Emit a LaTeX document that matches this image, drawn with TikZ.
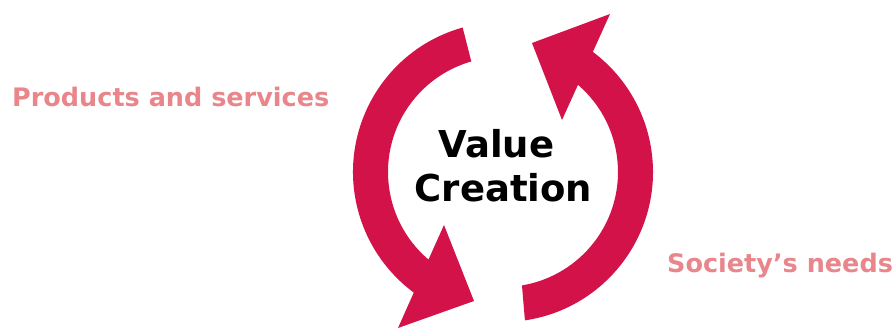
\documentclass[tikz,border=0pt]{standalone}
\usepackage{fontspec}
\setmainfont{DejaVu Sans}
\usetikzlibrary{calc}
\definecolor{ringred}{HTML}{D3124A}
\definecolor{labelpink}{HTML}{E8868C}
\begin{document}
\begin{tikzpicture}[x=1pt,y=1pt,
  ring/.style={fill=ringred,draw=none},
  sidelabel/.style={text=labelpink,font=\bfseries\fontsize{25.5}{25.5}\selectfont,inner sep=0pt,anchor=base west},
  centerlabel/.style={text=black,font=\bfseries\fontsize{37}{37}\selectfont,inner sep=0pt,anchor=base}]
\useasboundingbox (0,0) rectangle (895,329);
\coordinate (C) at (503,157);
% left arrow (top -> bottom, head at bottom)
\fill[ring] ($(C)+(105.6:150pt)$) arc[start angle=105.6,end angle=233.5,radius=150pt]
  -- (398,1) -- (474,28) -- (444,104)
  -- ($(C)+(229.6:115pt)$) arc[start angle=229.6,end angle=106,radius=115pt] -- cycle;
% right arrow (bottom -> top, head at top)
\fill[ring] ($(C)+(-81.6:150pt)$) arc[start angle=-81.6,end angle=53.2,radius=150pt]
  -- (610,315) -- (532,286) -- (562,209)
  -- ($(C)+(49.3:115pt)$) arc[start angle=49.3,end angle=-80.5,radius=115pt] -- cycle;
\node[centerlabel] (value) at (496.5,171) {Value};
\node[centerlabel] (creation) at (503.5,127) {Creation};
\node[sidelabel] (products) at (12,222) {Products and services};
\node[sidelabel] (society) at (667,56) {Society’s needs};
\end{tikzpicture}
\end{document}
